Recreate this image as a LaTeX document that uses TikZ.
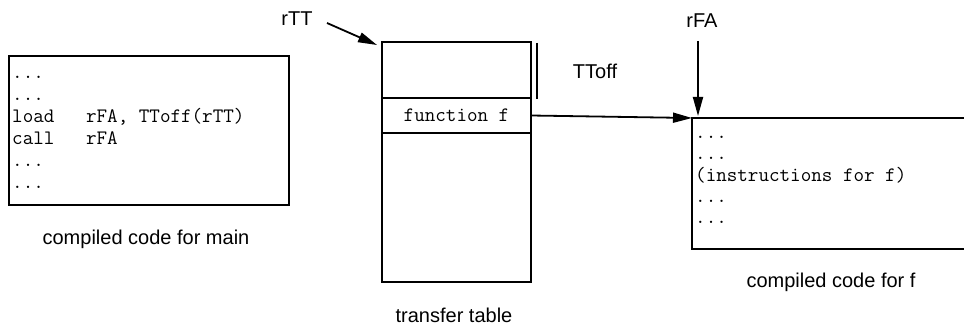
\documentclass[tikz,border=0pt]{standalone}
\usepackage{fontspec}
\setsansfont{Liberation Sans}
\usetikzlibrary{arrows.meta,calc}
\tikzset{
  boxline/.style={line width=2.2pt},
  codebox/.style={draw=none,minimum width=#1,inner sep=0pt,outer sep=0pt,anchor=north west},
  tabcell/.style={draw,line width=2.2pt,inner sep=0pt,outer sep=0pt,minimum width=149pt,anchor=north west},
  codeline/.style={anchor=base west,inner sep=0pt,font=\ttfamily\fontsize{20.5}{22}\selectfont},
  cell/.style={inner sep=0pt,font=\ttfamily\fontsize{20.5}{22}\selectfont},
  lab/.style={inner sep=0pt,font=\sffamily\fontsize{20}{22}\selectfont},
  arr/.style={line width=1.8pt,-{Triangle[length=19pt,width=10pt]}}
}
\begin{document}
\begin{tikzpicture}[x=1pt,y=-1pt]
\useasboundingbox (0,0) rectangle (964,326);
% left box: compiled code for main
\node[codebox=280pt,minimum height=149pt,draw,line width=2.2pt] (mainbox) at (9,56) {};
\node[codeline] (m1) at (12,79) {...};
\node[codeline] (m2) at (12,101) {...};
\node[codeline] (m3) at (12,123) {load\ \ \ rFA,\ TToff(rTT)};
\node[codeline] (m4) at (12,145) {call\ \ \ rFA};
\node[codeline] (m5) at (12,167) {...};
\node[codeline] (m6) at (12,189) {...};
\node[lab] (mainlab) at (146,239) {compiled code for main};
% transfer table
\node[tabcell,minimum height=56pt] (ttop) at (382,42) {};
\node[tabcell,minimum height=35pt] (tfunc) at (382,98) {};
\node[cell] (tfunctext) at (tfunc.center) {function f};
\node[tabcell,minimum height=149pt] (tbot) at (382,133) {};
\node[lab] (ttlab) at (454,315) {transfer table};
% TToff bar
\coordinate (barA) at ($(ttop.north east)+(6,1)$);
\coordinate (barB) at ($(ttop.south east)+(6,1)$);
\draw[line width=2.2pt] (barA) -- (barB);
\node[lab] (ttofflab) at (595,71) {TToff};
% rTT
\node[lab] (rttlab) at (297,19) {rTT};
\coordinate (rttS) at (327,23);
\coordinate (rttE) at ($(ttop.north west)+(-5,3)$);
\draw[arr] (rttS) -- (rttE);
% right box: compiled code for f
\node[codebox=272pt,minimum height=131pt] (fbox) at (692,118) {};
\draw[boxline] (fbox.north east) -- (fbox.north west) -- (fbox.south west) -- (fbox.south east);
\node[codeline] (f1) at (695,139) {...};
\node[codeline] (f2) at (695,160) {...};
\node[codeline] (f3) at (695,182) {(instructions\ for\ f)};
\node[codeline] (f4) at (695,202) {...};
\node[codeline] (f5) at (695,223) {...};
\node[lab] (flab) at (831,282) {compiled code for f};
% rFA
\node[lab] (rfalab) at (702,21) {rFA};
\coordinate (rfaS) at (698,41);
\coordinate (rfaE) at (698,116);
\draw[arr] (rfaS) -- (rfaE);
% function f -> compiled code for f
\draw[arr] (tfunc.east) -- (fbox.north west);
\end{tikzpicture}
\end{document}
